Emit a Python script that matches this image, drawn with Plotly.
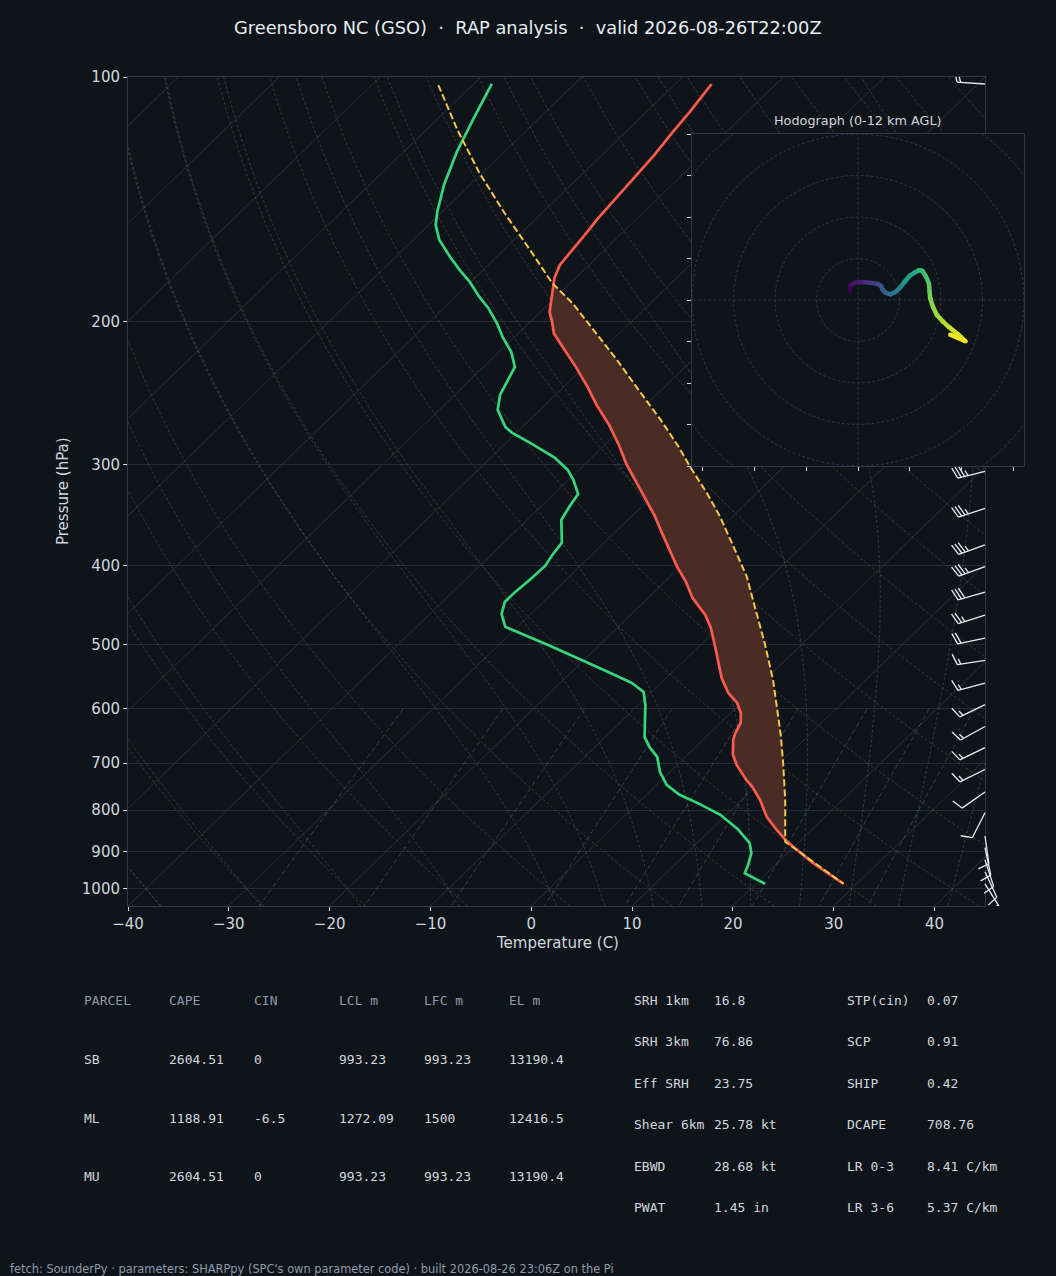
import numpy as np
import plotly.graph_objects as go
from plotly.colors import sample_colorscale

# ---------------- data ----------------
# environmental temperature (hPa, degC)
T_P = [102.0, 110.4, 117.2, 124.8, 135.1, 142.9, 149.2, 156.5, 164.7, 170.4, 176.8, 185.6, 194.7,
       200.4, 206.8, 216.9, 228.2, 241.5, 253.5, 268.3, 283.9, 299.7, 315.4, 330.0, 346.3, 366.5,
       384.6, 401.3, 418.7, 438.2, 459.8, 477.1, 505.0, 530.0, 549.9, 573.8, 590.3, 607.4, 624.8,
       642.7, 655.6, 683.9, 703.6, 734.2, 748.9, 777.0, 815.2, 845.8, 875.1, 929.0, 966.6, 985.9]
T_C = [-66.4, -65.7, -65.3, -64.8, -64.4, -64.1, -63.9, -63.5, -63.1, -62.9, -62.1, -60.6, -59.1,
       -57.8, -56.5, -53.7, -50.7, -47.5, -44.9, -41.6, -38.6, -35.9, -33.1, -30.6, -27.9, -25.0,
       -22.5, -20.3, -17.9, -15.6, -12.6, -10.7, -8.2, -6.1, -4.5, -2.3, -0.4, 1.0, 2.0,
       2.5, 3.0, 4.5, 5.9, 8.4, 9.7, 11.8, 14.2, 16.5, 18.8, 23.5, 26.9, 28.7]
# dewpoint
TD_P = [102.0, 112.3, 123.7, 135.8, 146.6, 152.2, 158.8, 166.6, 172.9, 178.8, 186.6, 192.5, 200.9,
        209.0, 218.1, 227.6, 246.4, 257.1, 269.8, 274.4, 282.3, 294.6, 304.8, 313.6, 326.3, 337.6,
        351.3, 374.9, 388.0, 400.2, 416.5, 430.8, 443.3, 458.5, 475.7, 486.8, 500.8, 518.1, 534.5,
        545.3, 557.8, 572.2, 593.7, 619.6, 650.0, 668.7, 687.9, 717.7, 744.6, 766.0, 785.9, 810.7,
        844.3, 878.2, 903.6, 938.7, 956.6, 985.9]
TD_C = [-88.2, -86.5, -84.7, -82.6, -80.5, -79.3, -77.4, -74.6, -72.3, -70.1, -67.6, -65.6, -63.2,
        -61.2, -58.8, -56.9, -55.5, -54.2, -51.7, -50.4, -47.6, -43.6, -41.1, -39.5, -37.6, -37.2,
        -36.6, -34.2, -33.9, -33.5, -33.6, -33.8, -33.8, -32.9, -31.2, -28.4, -25.1, -21.2, -17.6,
        -15.4, -12.9, -10.8, -9.3, -7.8, -6.1, -4.6, -2.8, -1.0, 1.0, 3.3, 6.2, 9.4,
        12.6, 15.2, 16.4, 17.4, 17.8, 20.9]
# surface-based parcel path
PCL_P = [102.3, 116.2, 131.3, 147.1, 163.3, 179.4, 190.0, 204.9, 223.1, 245.2, 264.5, 285.3, 302.0,
         325.6, 348.0, 378.8, 412.5, 440.7, 499.3, 553.0, 600.4, 646.3, 699.6, 777.0, 875.1, 929.0,
         985.9]
PCL_C = [-93.4, -86.9, -80.3, -73.7, -67.4, -61.8, -57.7, -52.9, -47.5, -41.7, -37.0, -32.5, -29.3,
         -24.9, -21.2, -16.8, -12.4, -9.4, -3.7, 0.8, 4.2, 7.2, 10.3, 14.3, 18.6, 23.7,
         28.7]
LCL_P = 875.1
EL_P = 179.4

# wind barbs
BARB_P = [102.0, 306, 340, 377, 401, 431, 460, 491, 523, 558, 593, 631, 670, 713, 760, 806,
          861, 890, 921, 953, 986]
BARB_DIR = [274, 256, 252, 250, 250, 254, 252, 258, 261, 255, 244, 241, 244, 244, 235, 207,
            172, 168, 162, 155, 148]
BARB_SPD = [15, 35, 35, 35, 35, 30, 25, 20, 15, 15, 15, 15, 15, 15, 10, 10,
            10, 10, 10, 10, 5]

# hodograph (kt) and height (km AGL)
HODO_U = [-4.0, -3.7, -1.6, 1.6, 5.6, 9.6, 11.2, 11.7, 13.3, 15.6, 18.1, 20.4, 22.5, 24.9,
          27.3, 29.4, 31.0, 32.6, 34.2, 34.5, 34.8, 36.1, 38.0, 40.9, 44.1, 48.2, 51.8, 44.5]
HODO_V = [4.5, 6.9, 8.3, 8.7, 8.3, 7.7, 6.7, 5.1, 3.5, 2.7, 3.9, 6.1, 8.8, 11.7,
          13.2, 14.4, 14.1, 11.6, 8.0, 4.0, 0.8, -3.2, -7.2, -10.4, -13.3, -16.5, -19.9, -16.7]
HODO_Z = [0, 0.3, 0.8, 1.2, 1.8, 2.5, 3.0, 3.3, 3.8, 4.2, 5.0, 5.6, 6.3, 6.8,
          7.2, 7.8, 8.2, 8.5, 8.8, 9.2, 9.6, 10.0, 10.3, 10.6, 11.0, 11.3, 11.7, 12.0]

X_TICKS = [-40, -30, -20, -10, 0, 10, 20, 30, 40]
P_TICKS = [100, 200, 300, 400, 500, 600, 700, 800, 900, 1000]

ISOTHERMS = list(range(-120, 41, 10))
DRY_T0 = list(range(-40, 241, 10))
MOIST_T0 = [-40, -30, -20, -10, 0, 5, 10, 15, 20, 25, 30, 35, 40, 45]
MIX_W = [0.0004, 0.001, 0.002, 0.004, 0.007, 0.01, 0.016, 0.024, 0.032]
HODO_RINGS = [20, 40, 60, 80, 100, 120]
HODO_XTICKS = [-75, -50, -25, 0, 25, 50, 75]
HODO_YTICKS = [-80, -60, -40, -20, 0, 20, 40, 60, 80]

TITLE = "Greensboro NC (GSO)  \u00b7  RAP analysis  \u00b7  valid 2026-08-26T22:00Z"
FOOTER = ("fetch: SounderPy \u00b7 parameters: SHARPpy (SPC's own parameter code) \u00b7 "
          "built 2026-08-26 23:06Z on the Pi")
PARCEL_HEAD = ["PARCEL", "CAPE", "CIN", "LCL m", "LFC m", "EL m"]
PARCEL_ROWS = [["SB", "2604.51", "0", "993.23", "993.23", "13190.4"],
               ["ML", "1188.91", "-6.5", "1272.09", "1500", "12416.5"],
               ["MU", "2604.51", "0", "993.23", "993.23", "13190.4"]]
IDX_LEFT = [("SRH 1km", "16.8"), ("SRH 3km", "76.86"), ("Eff SRH", "23.75"),
            ("Shear 6km", "25.78 kt"), ("EBWD", "28.68 kt"), ("PWAT", "1.45 in")]
IDX_RIGHT = [("STP(cin)", "0.07"), ("SCP", "0.91"), ("SHIP", "0.42"),
             ("DCAPE", "708.76"), ("LR 0-3", "8.41 C/km"), ("LR 3-6", "5.37 C/km")]

# ---------------- style / geometry ----------------
FIG_W, FIG_H = 1056, 1276
BG = "#0f141a"
SPINE = "#2e3947"
TXT = "#d0d7de"
MUTED = "#8e9aab"
C_T = "#ff5a4e"
C_TD = "#36d67c"
C_PCL = "#f7c548"
C_CAPE = "#4a2c26"
MAIN_L, MAIN_R, MAIN_T, MAIN_B = 128, 985, 77, 906
HODO_L, HODO_R, HODO_T, HODO_B = 692, 1024, 134, 466
BARB_L, BARB_R = 925, 1025
P_BOT, P_TOP = 1050.0, 100.0
T_MIN, T_MAX = -40.0, 45.0
LOG_SPAN = np.log10(P_BOT) - np.log10(P_TOP)
PX_PER_DECADE = (MAIN_B - MAIN_T) / LOG_SPAN


def fx(px):
    return px / FIG_W


def fy(py):
    return 1 - py / FIG_H


def skew(t, p):
    p = np.asarray(p, float)
    return np.asarray(t, float) + (T_MAX - T_MIN) * (np.log10(P_BOT) - np.log10(p)) / LOG_SPAN


def join(lines):
    xs, ys = [], []
    for x, y in lines:
        xs += list(x) + [None]
        ys += list(y) + [None]
    return xs, ys


fig = go.Figure()

# ---- background reference lines ----
p_full = np.geomspace(P_BOT, P_TOP, 80)
iso = [(skew([t, t], [P_BOT, P_TOP]), [P_BOT, P_TOP]) for t in ISOTHERMS]
x, y = join(iso)
fig.add_trace(go.Scatter(x=x, y=y, mode="lines", line=dict(color="#27313d", width=1)))

dry = []
for t0 in DRY_T0:
    tk = (t0 + 273.15) * (p_full / 1000.0) ** 0.2857 - 273.15
    dry.append((skew(tk, p_full), p_full))
x, y = join(dry)
fig.add_trace(go.Scatter(x=x, y=y, mode="lines",
                         line=dict(color="rgba(175,120,65,0.32)", width=1, dash="3px,2px")))

Rd, Cp, Lv, EPS = 287.04, 1005.7, 2.501e6, 0.622


def dtdlnp(T, lnp):
    p = np.exp(lnp)
    es = 6.112 * np.exp(17.67 * (T - 273.15) / (T - 29.65))
    rs = EPS * es / (p - es)
    return (Rd * T + Lv * rs) / (Cp + Lv * Lv * rs * EPS / (Rd * T * T))


def moist_path(t0, grid):
    T = t0 + 273.15
    out = [T]
    lg = np.log(grid)
    for i in range(len(grid) - 1):
        h = lg[i + 1] - lg[i]
        l0 = lg[i]
        k1 = dtdlnp(T, l0)
        k2 = dtdlnp(T + h * k1 / 2, l0 + h / 2)
        k3 = dtdlnp(T + h * k2 / 2, l0 + h / 2)
        k4 = dtdlnp(T + h * k3, l0 + h)
        T = T + h * (k1 + 2 * k2 + 2 * k3 + k4) / 6
        out.append(T)
    return np.array(out) - 273.15


up = np.geomspace(1000.0, P_TOP, 90)
down = np.geomspace(1000.0, P_BOT, 6)
moist = []
for t0 in MOIST_T0:
    tu = moist_path(t0, up)
    td = moist_path(t0, down)
    pp = np.concatenate([down[::-1], up[1:]])
    tt = np.concatenate([td[::-1], tu[1:]])
    moist.append((skew(tt, pp), pp))
x, y = join(moist)
fig.add_trace(go.Scatter(x=x, y=y, mode="lines",
                         line=dict(color="rgba(110,150,180,0.30)", width=1, dash="3px,2px")))

p_mix = np.linspace(600.0, P_BOT, 30)
mix = []
for w in MIX_W:
    e = w * p_mix / (EPS + w)
    le = np.log(e / 6.112)
    tdw = 243.5 * le / (17.67 - le)
    mix.append((skew(tdw, p_mix), p_mix))
x, y = join(mix)
fig.add_trace(go.Scatter(x=x, y=y, mode="lines",
                         line=dict(color="rgba(90,140,185,0.38)", width=1, dash="5px,3px")))

# ---- CAPE shading ----
pg = np.geomspace(EL_P, LCL_P, 150)
env = np.interp(np.log(pg), np.log(T_P), T_C)
par = np.maximum(np.interp(np.log(pg), np.log(PCL_P), PCL_C), env)
fig.add_trace(go.Scatter(x=np.concatenate([skew(par, pg), skew(env, pg)[::-1]]),
                         y=np.concatenate([pg, pg[::-1]]), mode="lines", fill="toself",
                         fillcolor=C_CAPE, line=dict(width=0)))

# ---- profiles ----
fig.add_trace(go.Scatter(x=skew(TD_C, TD_P), y=TD_P, mode="lines", line=dict(color=C_TD, width=2.7)))
fig.add_trace(go.Scatter(x=skew(T_C, T_P), y=T_P, mode="lines", line=dict(color=C_T, width=2.7)))
fig.add_trace(go.Scatter(x=skew(PCL_C, PCL_P), y=PCL_P, mode="lines",
                         line=dict(color=C_PCL, width=2.0, dash="7px,3px")))

# ---- wind barbs (x2/y2: pixel offsets from the right spine) ----
L = 28.0
HGT, HALFW, SPACING = 0.4 * L, 0.125 * L, 0.125 * L
bx, by = [], []


def add_seg(p0, a, b):
    # a, b: (dx, dy_up) pixel offsets
    bx.extend([a[0], b[0], None])
    by.extend([p0 * 10 ** (-a[1] / PX_PER_DECADE), p0 * 10 ** (-b[1] / PX_PER_DECADE), None])


for p0, d, s in zip(BARB_P, BARB_DIR, BARB_SPD):
    r = np.radians(d)
    dv = np.array([np.sin(r), np.cos(r)])
    pv = np.array([np.cos(r), -np.sin(r)])
    tip = L * dv
    add_seg(p0, (0.0, 0.0), tuple(tip))
    n = int(round(s / 5.0)) * 5
    nflag, n = divmod(n, 50)
    nfull, n = divmod(n, 10)
    nhalf = n // 5
    off = 0.0
    for _ in range(nflag):
        a = tip - off * dv
        b = a + HGT * pv - HALFW * dv
        c = tip - (off + 2 * HALFW) * dv
        add_seg(p0, tuple(a), tuple(b))
        add_seg(p0, tuple(b), tuple(c))
        off += 2 * HALFW + SPACING
    for _ in range(nfull):
        a = tip - off * dv
        add_seg(p0, tuple(a), tuple(a + HGT * pv + HALFW * dv))
        off += SPACING
    if nhalf:
        if nflag == 0 and nfull == 0:
            off += SPACING
        a = tip - off * dv
        add_seg(p0, tuple(a), tuple(a + 0.5 * HGT * pv + 0.5 * HALFW * dv))

fig.add_trace(go.Scatter(x=bx, y=by, mode="lines", line=dict(color="#e9ecef", width=1.3),
                         xaxis="x2", yaxis="y2"))

# ---- hodograph (x3/y3) ----
fig.add_trace(go.Scatter(x=[-80, 80, 80, -80, -80], y=[-80, -80, 80, 80, -80], mode="lines",
                         fill="toself", fillcolor=BG, line=dict(width=0), xaxis="x3", yaxis="y3"))
th = np.linspace(0, 2 * np.pi, 181)
rings = [(r * np.cos(th), r * np.sin(th)) for r in HODO_RINGS]
rings += [([-130, 130], [0, 0]), ([0, 0], [-130, 130])]
x, y = join(rings)
fig.add_trace(go.Scatter(x=x, y=y, mode="lines", line=dict(color="#2c3846", width=1, dash="3px,2px"),
                         xaxis="x3", yaxis="y3"))
zn = np.array(HODO_Z) / max(HODO_Z)
for i in range(len(HODO_U) - 1):
    c = sample_colorscale("Viridis", [float((zn[i] + zn[i + 1]) / 2)])[0]
    fig.add_trace(go.Scatter(x=[HODO_U[i], HODO_U[i + 1]], y=[HODO_V[i], HODO_V[i + 1]], mode="lines",
                             line=dict(color=c, width=4.5), xaxis="x3", yaxis="y3"))
fig.add_trace(go.Scatter(x=HODO_U, y=HODO_V, mode="markers",
                         marker=dict(size=4.5, color=sample_colorscale("Viridis", [float(v) for v in zn])),
                         xaxis="x3", yaxis="y3"))

fig.update_traces(hoverinfo="skip", showlegend=False)

# ---- axes ----
tickfont = dict(family="DejaVu Sans", size=15, color=TXT)
ydom = [fy(MAIN_B), fy(MAIN_T)]
fig.update_layout(
    width=FIG_W, height=FIG_H, autosize=False,
    margin=dict(l=0, r=0, t=0, b=0, pad=0, autoexpand=False),
    paper_bgcolor=BG, plot_bgcolor="rgba(0,0,0,0)", showlegend=False,
    xaxis=dict(domain=[fx(MAIN_L), fx(MAIN_R)], range=[T_MIN, T_MAX], anchor="y",
               tickmode="array", tickvals=X_TICKS,
               ticktext=[("\u2212" + str(-v)) if v < 0 else str(v) for v in X_TICKS],
               ticks="outside", ticklen=4, tickcolor=TXT, tickfont=tickfont, automargin=False,
               showline=True, linecolor=SPINE, mirror=True, showgrid=False, zeroline=False),
    yaxis=dict(domain=ydom, type="log", range=[np.log10(P_BOT), np.log10(P_TOP)], anchor="x",
               tickmode="array", tickvals=P_TICKS, ticktext=[str(v) for v in P_TICKS],
               ticks="outside", ticklen=4, tickcolor=TXT, tickfont=tickfont, automargin=False,
               showline=True, linecolor=SPINE, mirror=True, showgrid=True, gridcolor="#232c37",
               gridwidth=1, zeroline=False),
    xaxis2=dict(domain=[fx(BARB_L), fx(BARB_R)], range=[BARB_L - MAIN_R, BARB_R - MAIN_R],
                anchor="y2", visible=False, automargin=False),
    yaxis2=dict(domain=ydom, type="log", range=[np.log10(P_BOT), np.log10(P_TOP)],
                anchor="x2", visible=False, automargin=False),
    xaxis3=dict(domain=[fx(HODO_L), fx(HODO_R)], range=[-80, 80], anchor="y3",
                tickmode="array", tickvals=HODO_XTICKS, showticklabels=False, automargin=False,
                ticks="outside", ticklen=4, tickcolor=TXT, showline=True, linecolor=SPINE,
                mirror=True, showgrid=False, zeroline=False),
    yaxis3=dict(domain=[fy(HODO_B), fy(HODO_T)], range=[-80, 80], anchor="x3",
                tickmode="array", tickvals=HODO_YTICKS, showticklabels=False, automargin=False,
                ticks="outside", ticklen=4, tickcolor=TXT, showline=True, linecolor=SPINE,
                mirror=True, showgrid=False, zeroline=False),
)

# ---- texts ----
ann = []


def text(s, px, py, size=13, color=TXT, family="DejaVu Sans", xanchor="center", angle=0):
    ann.append(dict(text=s, x=fx(px), y=fy(py), xref="paper", yref="paper", showarrow=False,
                    xanchor=xanchor, yanchor="middle", textangle=angle, borderpad=0,
                    font=dict(family=family, size=size, color=color)))


text(TITLE, 528, 27, size=17.8, color="#e6edf3")
text("Temperature (C)", 557, 943, size=15)
text("Pressure (hPa)", 63, 491, size=15, angle=-90)
text("Hodograph (0-12 km AGL)", 858, 120, size=12.8)

MONO = "DejaVu Sans Mono"
col_x = [83, 168, 253, 338, 423, 508]
row_y = [1000, 1059, 1118, 1176]
for cx, h in zip(col_x, PARCEL_HEAD):
    text(h, cx, row_y[0], color=MUTED, family=MONO, xanchor="left")
for ry, row in zip(row_y[1:], PARCEL_ROWS):
    for cx, v in zip(col_x, row):
        text(v, cx, ry, family=MONO, xanchor="left")
idx_y = [1000, 1041, 1083, 1124, 1166, 1207]
for ry, (k, v) in zip(idx_y, IDX_LEFT):
    text(k, 633, ry, family=MONO, xanchor="left")
    text(v, 713, ry, family=MONO, xanchor="left")
for ry, (k, v) in zip(idx_y, IDX_RIGHT):
    text(k, 846, ry, family=MONO, xanchor="left")
    text(v, 926, ry, family=MONO, xanchor="left")
text(FOOTER, 9, 1269, size=11.4, color=MUTED, xanchor="left")

fig.update_layout(annotations=ann)
fig.write_html("out.html", config={"responsive": False, "displayModeBar": False},
               post_script="document.body.style.margin='0px';"
                           "document.body.style.overflow='hidden';"
                           "document.body.style.background='" + BG + "';")
